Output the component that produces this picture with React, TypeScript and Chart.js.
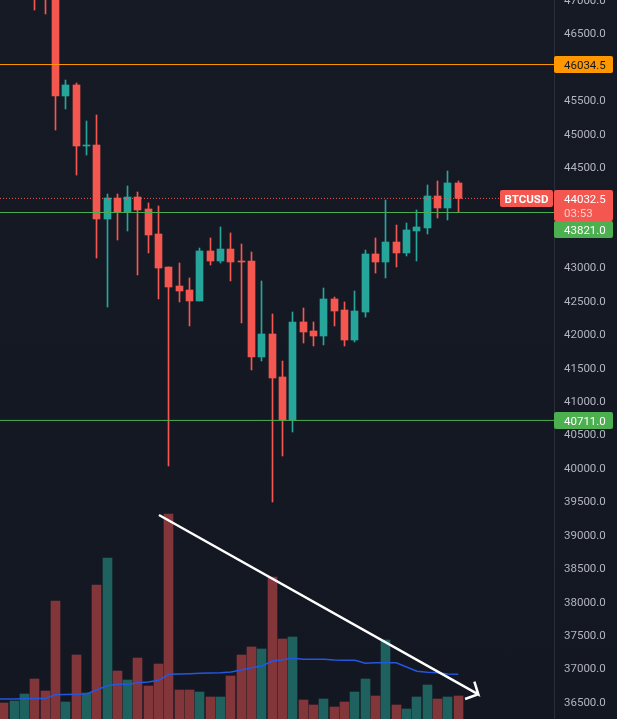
import { useEffect, useRef } from "react"
import { Chart, registerables } from "chart.js"

Chart.register(...registerables)

// values, first three candles are above the visible range
const opens = [null, null, null, 47400, 47300, 47150, 45564, 45729, 44816, 44831, 43724, 44038, 43829, 44053, 43874, 43500, 43006, 42722, 42662, 42498, 43246, 43096, 43275, 43096, 43096, 41660, 42004, 41361, 40718, 42184, 42049, 41974, 42528, 42363, 41914, 42333, 43201, 43081, 43380, 43216, 43545, 43590, 44068, 43889, 44263]
const closes = [null, null, null, 47100, 47050, 45564, 45729, 44816, 44831, 43724, 44038, 43829, 44053, 43859, 43485, 42991, 42707, 42647, 42498, 43246, 43096, 43275, 43081, 43081, 41660, 42004, 41346, 40718, 42184, 42034, 41974, 42528, 42348, 41914, 42348, 43201, 43081, 43380, 43216, 43560, 43605, 44068, 43889, 44263, 44032.5]
const highs = [null, null, null, 47500, 47400, 47200, 45803, 45758, 45190, 45280, 44098, 44098, 44218, 44128, 43964, 43919, 43006, 43066, 42842, 43290, 43440, 43605, 43515, 43350, 43231, 42797, 42303, 41600, 42333, 42393, 42184, 42692, 42557, 42483, 42647, 43260, 43440, 44008, 43634, 43664, 43859, 44233, 44293, 44442, 44293]
const lows = [null, null, null, 46850, 46791, 45055, 45370, 44382, 44681, 43141, 42408, 43410, 43545, 42887, 43216, 42528, 40030, 42483, 42124, 42498, 43036, 43066, 42797, 42169, 41466, 41600, 39491, 40179, 40538, 41869, 41825, 41840, 42124, 41825, 41884, 42258, 42916, 42842, 43006, 43171, 43096, 43500, 43739, 43709, 43829]
const volumes = [160, 180, 250, 400, 280, 1180, 170, 640, 260, 1340, 1610, 480, 390, 610, 330, 550, 2050, 290, 290, 270, 220, 220, 430, 640, 720, 700, 1420, 800, 820, 190, 140, 200, 120, 170, 270, 400, 230, 790, 140, 100, 220, 340, 200, 220, 230]
const volumeUp = [0, 1, 1, 0, 0, 0, 1, 0, 1, 0, 1, 0, 1, 0, 0, 0, 0, 0, 0, 1, 0, 1, 0, 0, 0, 1, 0, 0, 1, 0, 0, 1, 0, 0, 1, 1, 0, 1, 0, 1, 1, 1, 0, 1, 0]
const volumeMa = [200, 200, 203, 205, 205, 243, 245, 247, 250, 290, 333, 347, 347, 363, 370, 387, 447, 450, 453, 457, 460, 463, 470, 490, 513, 530, 580, 593, 607, 597, 597, 597, 590, 587, 587, 557, 563, 563, 563, 520, 477, 467, 463, 450, 447]
const yTicks = [47000, 46500, 46000, 45500, 45000, 44500, 44000, 43500, 43000, 42500, 42000, 41500, 41000, 40500, 40000, 39500, 39000, 38500, 38000, 37500, 37000, 36500]

const lastPrice = 44032.5
const resistance = 46034.5
const levels = [43821, 40711]
// trend arrow: shaft to the tip, then the two arms of the head
const trendX = [15.03, 45.94, 45.56, 45.94, 44.66]
const trendY = [39297, 36615, 36803, 36615, 36544]

const UP = "#26a69a"
const DOWN = "#f4574f"
const UP_VOL = "#1e615f"
const DOWN_VOL = "#83363a"
const FONT = "Roboto"
const xMin = -0.3577
const xMax = 53.27

const idx = opens.map((_, i) => i)
const candleIdx = idx.filter((i) => opens[i] !== null)
const candleColor = (i: number) => (closes[i]! >= opens[i]! ? UP : DOWN)

const hLine = (value: number, color: string, order: number, dash: number[] = []) => ({
  type: "line" as const,
  data: [
    { x: xMin, y: value },
    { x: xMax, y: value },
  ],
  borderColor: color,
  borderWidth: 1,
  borderDash: dash,
  pointRadius: 0,
  yAxisID: "y",
  order,
})

function box(ctx: CanvasRenderingContext2D, x: number, y: number, w: number, h: number, color: string) {
  ctx.fillStyle = color
  ctx.beginPath()
  ctx.roundRect(x, y, w, h, 2)
  ctx.fill()
}

// keeps 1px wicks and bodies on whole pixels like the original
const snapBars = {
  id: "snapBars",
  beforeDatasetsDraw(chart: any) {
    chart.getSortedVisibleDatasetMetas().forEach((meta: any) => {
      if (meta.type !== "bar") return
      meta.data.forEach((el: any) => {
        el.x = Math.floor(el.x) + 0.5
      })
    })
  },
}

const priceTags = {
  id: "priceTags",
  afterDraw(chart: any) {
    const ctx: CanvasRenderingContext2D = chart.ctx
    const y = chart.scales.y
    ctx.save()
    ctx.textBaseline = "middle"
    ctx.font = `11.5px ${FONT}`

    const tag = (top: number, color: string, text: string, textColor: string) => {
      box(ctx, 554, top, 59, 17, color)
      ctx.fillStyle = textColor
      ctx.textAlign = "left"
      ctx.fillText(text, 564, top + 10)
    }

    tag(y.getPixelForValue(resistance) - 8.5, "#ff9800", resistance.toFixed(1), "#131722")
    tag(y.getPixelForValue(levels[1]) - 8.5, "#4caf50", levels[1].toFixed(1), "#ffffff")

    // last price block with countdown, the level below gets pushed under it
    box(ctx, 554, 190, 59, 31, DOWN)
    ctx.fillStyle = "#ffffff"
    ctx.fillText(lastPrice.toFixed(1), 564, 200)
    ctx.fillStyle = "rgba(255,255,255,0.7)"
    ctx.fillText("03:53", 564, 214)
    tag(221, "#4caf50", levels[0].toFixed(1), "#ffffff")

    box(ctx, 500, 190, 53, 17, DOWN)
    ctx.fillStyle = "#ffffff"
    ctx.font = `bold 11.5px ${FONT}`
    ctx.textAlign = "center"
    ctx.fillText("BTCUSD", 526.5, 200)
    ctx.restore()
  },
}

const App = () => {
  const canvasRef = useRef<HTMLCanvasElement | null>(null)

  useEffect(() => {
    if (!canvasRef.current) return

    const chartInstance = new Chart(canvasRef.current, {
      type: "bar",
      plugins: [snapBars, priceTags],
      data: {
        datasets: [
          {
            type: "line",
            data: trendX.map((x, i) => ({ x, y: trendY[i] })),
            borderColor: "#ffffff",
            borderWidth: 2.5,
            pointRadius: 0,
            yAxisID: "y",
            order: 0,
          },
          hLine(resistance, "#ff9800", 1),
          hLine(levels[0], "#4caf50", 1),
          hLine(levels[1], "#4caf50", 1),
          hLine(lastPrice, DOWN, 1, [1, 2]),
          {
            data: candleIdx.map((i) => ({ x: i, y: [opens[i], closes[i]] })),
            backgroundColor: candleIdx.map(candleColor),
            barThickness: 7,
            yAxisID: "y",
            order: 2,
          },
          {
            data: candleIdx.map((i) => ({ x: i, y: [lows[i], highs[i]] })),
            backgroundColor: candleIdx.map(candleColor),
            barThickness: 1,
            yAxisID: "y",
            order: 3,
          },
          {
            type: "line",
            // the moving average comes in from the left edge
            data: [{ x: xMin, y: volumeMa[0] }, ...idx.map((i) => ({ x: i, y: volumeMa[i] }))],
            borderColor: "#2457e0",
            borderWidth: 1.5,
            pointRadius: 0,
            yAxisID: "vol",
            order: 4,
          },
          {
            data: idx.map((i) => ({ x: i, y: volumes[i] })),
            backgroundColor: idx.map((i) => (volumeUp[i] ? UP_VOL : DOWN_VOL)),
            barThickness: 9,
            yAxisID: "vol",
            order: 5,
          },
        ] as any,
      },
      options: {
        animation: false,
        responsive: false,
        devicePixelRatio: 1,
        layout: { autoPadding: false, padding: 0 },
        plugins: { legend: { display: false }, tooltip: { enabled: false } },
        datasets: { bar: { grouped: false, borderWidth: 0 } },
        scales: {
          x: { type: "linear", min: xMin, max: xMax, offset: false, display: false },
          y: {
            position: "right",
            min: 36245,
            max: 47000,
            grid: { display: false, drawTicks: false },
            border: { display: true, color: "#2a2e39" },
            afterFit: (scale: any) => {
              scale.width = 63
              // plot area runs edge to edge, the top label is cut by the window
              scale.paddingTop = 0
              scale.paddingBottom = 0
            },
            afterBuildTicks: (scale: any) => {
              scale.ticks = yTicks.map((value) => ({ value }))
            },
            ticks: {
              color: "#b2b5be",
              padding: 10,
              autoSkip: false,
              labelOffset: 1,
              font: { family: FONT, size: 11.5 },
              callback: (v: any) => Number(v).toFixed(1),
            },
          },
          vol: { position: "left", display: false, min: 0, max: 7190 },
        },
      } as any,
    })

    return () => {
      chartInstance.destroy()
    }
  }, [])

  return (
    <canvas
      ref={canvasRef}
      width={617}
      height={719}
      style={{
        position: "fixed",
        left: 0,
        top: 0,
        width: 617,
        height: 719,
        background: "linear-gradient(#161a25, #131722)",
      }}
    />
  )
}

export default App
